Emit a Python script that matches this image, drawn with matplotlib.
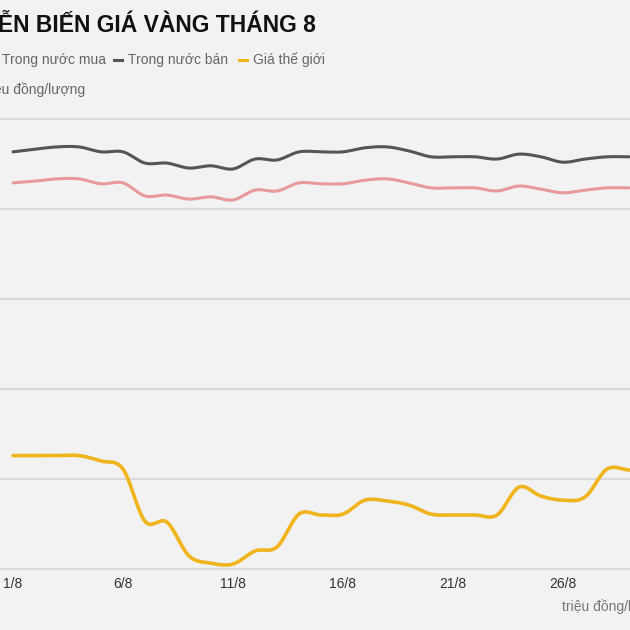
import numpy as np
import matplotlib.pyplot as plt

plt.rcParams['font.family'] = ['Liberation Sans', 'DejaVu Sans']

# du lieu doc tu hinh (trieu dong/luong)
days = list(range(1, 30))
trong_nuoc_ban = [57.27, 57.33, 57.38, 57.38, 57.27, 57.27, 57.02, 57.02, 56.91, 56.96,
                  56.89, 57.11, 57.09, 57.27, 57.27, 57.27, 57.36, 57.38, 57.29, 57.16,
                  57.16, 57.16, 57.11, 57.22, 57.16, 57.04, 57.11, 57.16, 57.16]
trong_nuoc_mua = [56.58, 56.62, 56.67, 56.67, 56.56, 56.58, 56.29, 56.31, 56.22, 56.27,
                  56.20, 56.42, 56.40, 56.58, 56.56, 56.56, 56.64, 56.67, 56.58, 56.47,
                  56.47, 56.47, 56.40, 56.51, 56.44, 56.36, 56.42, 56.47, 56.47]
gia_the_gioi = [50.52, 50.52, 50.52, 50.52, 50.40, 50.22, 49.06, 49.04, 48.29, 48.13,
                48.11, 48.40, 48.49, 49.22, 49.20, 49.22, 49.53, 49.51, 49.42, 49.22,
                49.20, 49.20, 49.20, 49.82, 49.62, 49.53, 49.60, 50.22, 50.20]
tick_days = [1, 6, 11, 16, 21, 26]
tick_labels = [f"{d}/8" for d in tick_days]
y_grid = [48, 50, 52, 54, 56, 58]

BG = '#f2f2f2'
C_BAN = '#555555'
C_MUA = '#e8999b'
C_TG = '#f0b41c'


# duong cong Catmull-Rom di qua cac diem
def smooth(x, y, n=20):
    x = np.asarray(x, float)
    y = np.asarray(y, float)
    h = np.diff(x)
    m = np.zeros_like(y)
    m[1:-1] = (y[2:] - y[:-2]) / (x[2:] - x[:-2])
    m[0] = (y[1] - y[0]) / h[0]
    m[-1] = (y[-1] - y[-2]) / h[-1]
    xs, ys = [], []
    t = np.linspace(0, 1, n, endpoint=False)
    h00 = 2 * t**3 - 3 * t**2 + 1
    h10 = t**3 - 2 * t**2 + t
    h01 = -2 * t**3 + 3 * t**2
    h11 = t**3 - t**2
    for k in range(len(x) - 1):
        xs.append(x[k] + t * h[k])
        ys.append(h00 * y[k] + h10 * h[k] * m[k] + h01 * y[k + 1] + h11 * h[k] * m[k + 1])
    xs.append([x[-1]])
    ys.append([y[-1]])
    return np.concatenate(xs), np.concatenate(ys)


W = H = 630
fig = plt.figure(figsize=(6.3, 6.3), dpi=100, facecolor=BG)
# truc bat dau ngoai mep trai (hinh goc bi cat)
ax = fig.add_axes([-9 / W, 61 / H, 704 / W, 459 / H])
ax.set_facecolor(BG)
ax.set_xlim(0, 32)
ax.set_ylim(48, 58.2)

for yv in y_grid:
    ax.axhline(yv, color='#d9d9d9', lw=1.6, zorder=1, clip_on=False)

for vals, col, lw in [(trong_nuoc_mua, C_MUA, 2.2), (trong_nuoc_ban, C_BAN, 2.2),
                      (gia_the_gioi, C_TG, 2.6)]:
    xs, ys = smooth(days, vals)
    ax.plot(xs, ys, color=col, lw=lw, solid_capstyle='round', zorder=3)

ax.set_xticks(tick_days)
ax.set_xticklabels(tick_labels, fontsize=10, color='#333333')
ax.set_yticks([])
ax.tick_params(axis='x', length=0, pad=6)
for s in ax.spines.values():
    s.set_visible(False)


def px(x, y):
    return x / W, 1 - y / H


fig.text(*px(316, 25), 'DIỄN BIẾN GIÁ VÀNG THÁNG 8', fontsize=16.5, fontweight='bold',
         color='#111111', ha='right', va='center')

# chu thich
fig.text(*px(2, 60), 'Trong nước mua', fontsize=10, color='#666666', va='center')
fig.text(*px(128, 60), 'Trong nước bán', fontsize=10, color='#666666', va='center')
fig.text(*px(253, 60), 'Giá thế giới', fontsize=10, color='#666666', va='center')
for x0, col in [(-12, C_MUA), (114, C_BAN), (239, C_TG)]:
    fig.add_artist(plt.Line2D([x0 / W, (x0 + 8) / W], [1 - 60 / H] * 2, color=col, lw=2.2))

fig.text(*px(85, 90), 'Triệu đồng/lượng', fontsize=10, color='#666666', ha='right', va='center')
fig.text(*px(562, 607), 'triệu đồng/lượng', fontsize=10, color='#777777', ha='left', va='center')

fig.savefig('out.png', dpi=100, facecolor=BG)
